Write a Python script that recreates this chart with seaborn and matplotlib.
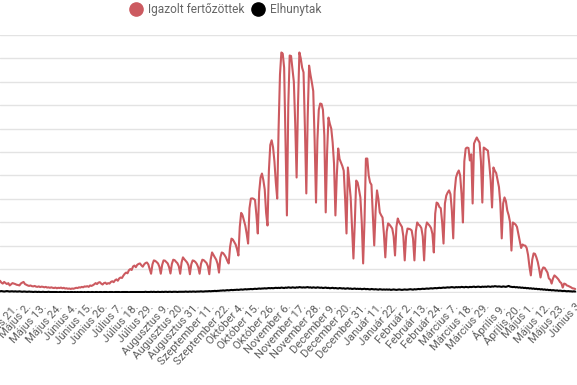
import numpy as np
import matplotlib
matplotlib.use("Agg")
import matplotlib.pyplot as plt
from matplotlib.lines import Line2D
import seaborn as sns

# napi adatok (kb. 2020. április 13. - 2021. június 3.)
cases = [
    50, 42, 38, 45, 40, 36, 40, 30, 35, 40,
    38, 36, 33, 32, 30, 38, 42, 45, 36, 33,
    30, 28, 30, 27, 26, 28, 25, 24, 26, 23,
    25, 24, 22, 24, 21, 22, 20, 22, 20, 19,
    21, 18, 20, 19, 21, 18, 20, 17, 18, 16,
    17, 15, 17, 16, 18, 20, 19, 22, 21, 24,
    22, 26, 25, 27, 24, 30, 28, 31, 35, 40,
    36, 42,
    44, 38, 34, 40, 42, 36, 40, 38, 45, 48,
    44, 52, 56, 50, 60, 64, 62, 72, 80, 85,
    82, 95, 100, 96, 111, 115, 108, 118, 122, 124,
    116, 110, 120, 126, 128, 120, 100,
    80, 120, 137, 135, 130, 124, 110,
    80, 118, 137, 136, 130, 124, 108,
    81, 122, 140, 138, 131, 125, 112,
    80, 128, 150, 142, 135, 128, 115,
    78, 120, 137, 135, 130, 122, 108,
    80, 122, 140, 138, 132, 126, 112,
    78, 140, 171, 160, 150, 140, 122,
    85, 150, 171, 168, 160, 150, 135,
    124, 195, 230, 226, 215, 205, 185,
    158, 280, 340, 330, 307, 285, 250,
    209, 360, 401, 402, 400, 395, 330,
    252, 430, 491, 508, 480, 440, 340,
    286, 520, 630, 650, 620, 560, 470,
    401, 700, 930, 1025, 1020, 960, 650,
    329, 800, 1012, 1010, 956, 900, 720,
    491, 800, 1025, 1000, 960, 940, 700,
    423, 750, 969, 930, 897, 860, 650,
    384, 650, 780, 807, 805, 780, 670,
    342, 600, 747, 720, 700, 641, 550,
    329, 500, 615, 570, 555, 540, 520, 400,
    252, 534, 470, 406, 280, 145,
    300, 478, 470, 440, 406, 300, 124,
    307, 572, 572, 500, 470, 460, 330,
    201, 350, 436, 400, 342, 330, 320, 250,
    150, 260, 295, 290, 282, 273, 240,
    158, 280, 316, 300, 290, 280, 240,
    137, 240, 273, 272, 270, 265, 230,
    137, 260, 299, 290, 285, 275, 240,
    137, 270, 299, 292, 285, 275, 250,
    171, 337, 384, 380, 365, 360, 300,
    209, 380, 414, 427, 436, 420, 350,
    231, 430, 491, 510, 521, 500, 420,
    299, 560, 615, 619, 617, 564, 590,
    380, 636, 650, 662, 650, 640, 560,
    384, 619, 615, 610, 606, 550, 480,
    363, 534, 520, 510, 480, 450, 380,
    231, 380, 406, 390, 350, 330, 300,
    179, 299, 295, 290, 280, 250, 220,
    190, 205, 201, 200, 190, 160, 110,
    73, 140, 167, 165, 150, 130, 100,
    64, 95, 107, 105, 95, 85, 60, 55,
    38, 60, 73, 68, 62, 55, 45, 40,
    21, 38, 36, 30, 28, 25, 22, 18, 17, 15,
]

deaths = [
    5, 6, 5, 4, 5, 6, 5, 4, 5, 5,
    4, 5, 4, 4, 5, 4, 3, 4, 4, 3,
    3, 4, 3, 3, 2, 3, 3, 2, 3, 2,
    2, 3, 2, 2, 2, 3, 2, 2, 2, 2,
    2, 2, 1, 2, 2, 1, 2, 2, 1, 2,
    1, 2, 2, 1, 2, 1, 2, 1, 2, 2,
    1, 2, 1, 2, 2, 1, 2, 2, 1, 2,
    2, 1, 2, 2, 1, 2, 2, 2, 1, 2,
    2, 2, 1, 2, 2, 2, 2, 1, 2, 2,
    2, 2, 2, 1, 2, 2, 2, 2, 2, 2,
    2, 2, 2, 2, 2, 3, 2, 2, 2, 3,
    2, 3, 2, 2, 3, 2, 2, 3, 2, 3,
    3, 2, 3, 3, 2, 3, 3, 3, 2, 3,
    3, 3, 3, 3, 4, 3, 3, 4, 3, 4,
    4, 3, 4, 4, 4, 5, 4, 4, 5, 5,
    5, 6, 5, 6, 6, 7, 6, 7, 7, 8,
    8, 9, 8, 9, 10, 9, 10, 11, 10, 11,
    11, 12, 11, 12, 13, 12, 13, 14, 13, 14,
    14, 15, 14, 15, 16, 15, 16, 17, 16, 17,
    17, 18, 17, 18, 19, 18, 19, 18, 19, 20,
    19, 20, 19, 21, 20, 19, 21, 20, 22, 21,
    20, 22, 21, 20, 22, 21, 23, 22, 21, 22,
    21, 22, 23, 21, 22, 20, 22, 21, 20, 22,
    21, 20, 21, 19, 20, 21, 19, 20, 18, 19,
    20, 18, 19, 18, 17, 19, 18, 17, 18, 16,
    17, 18, 16, 17, 15, 16, 17, 15, 16, 15,
    16, 14, 15, 16, 14, 15, 14, 13, 15, 14,
    13, 14, 13, 12, 14, 13, 12, 13, 12, 13,
    12, 13, 11, 12, 13, 12, 11, 12, 13, 12,
    11, 12, 13, 12, 12, 13, 14, 13, 12, 14,
    13, 14, 15, 14, 15, 16, 15, 16, 17, 16,
    17, 18, 17, 18, 19, 18, 19, 20, 19, 20,
    21, 20, 21, 22, 21, 22, 23, 22, 21, 23,
    22, 23, 22, 24, 23, 22, 24, 23, 22, 24,
    23, 24, 25, 23, 24, 25, 24, 23, 25, 24,
    25, 24, 26, 25, 24, 26, 25, 27, 26, 25,
    26, 25, 24, 26, 25, 24, 26, 28, 25, 24,
    23, 24, 22, 23, 21, 22, 20, 21, 19, 20,
    18, 19, 17, 18, 16, 17, 15, 16, 14, 15,
    13, 14, 12, 13, 11, 12, 10, 11, 9, 10,
    9, 8, 9, 7, 8, 7, 6, 7, 6, 5,
    6, 5, 5, 4, 5, 4,
]

tick_labels = [
    "Április 21.", "Május 2.", "Május 13.", "Május 24.", "Június 4.",
    "Június 15.", "Június 26.", "Július 7.", "Július 18.", "Július 29.",
    "Augusztus 9.", "Augusztus 20.", "Augusztus 31.", "Szeptember 11.",
    "Szeptember 22.", "Október 4.", "Október 15.", "Október 26.",
    "November 6.", "November 17.", "November 28.", "December 9.",
    "December 20.", "December 31.", "Január 11.", "Január 22.",
    "Február 2.", "Február 13.", "Február 24.", "Március 7.",
    "Március 18.", "Március 29.", "Április 9.", "Április 20.",
    "Május 1.", "Május 12.", "Május 23.", "Június 3",
]
tick_first = 8
tick_step = 11

series_names = ["Igazolt fertőzöttek", "Elhunytak"]
series_colors = ["#cc5a60", "#000000"]

sns.set_style("white")
plt.rcParams['font.family'] = ['Roboto', 'DejaVu Sans']

fig = plt.figure(figsize=(5.77, 3.85), dpi=100)
ax = fig.add_axes([0, 0.2397, 1, 0.6702])

sns.lineplot(x=np.arange(len(cases)), y=cases, ax=ax,
             color=series_colors[0], linewidth=1.5)
sns.lineplot(x=np.arange(len(deaths)), y=deaths, ax=ax,
             color=series_colors[1], linewidth=1.5)

ax.set_xlim(0, 416.3)
ax.set_ylim(-1, 1101)
ax.set_yticks(range(0, 1101, 100))
ax.set_yticklabels([])
ax.yaxis.grid(True, color="#e3e3e3", linewidth=1)
ax.set_axisbelow(True)
ax.set_xlabel("")
ax.set_ylabel("")

ticks = [tick_first + tick_step * i for i in range(len(tick_labels))]
ax.set_xticks(ticks)
ax.set_xticklabels(tick_labels, rotation=48, ha="right",
                   rotation_mode="anchor", fontsize=8.1, color="#5f5f5f")
ax.tick_params(left=False, bottom=False, pad=3)
for s in ax.spines.values():
    s.set_visible(False)

handles = [Line2D([], [], linestyle="none", marker="o", markersize=9.5,
                  markerfacecolor=c, markeredgecolor=c) for c in series_colors]
fig.legend(handles, series_names, loc="center", ncol=2, frameon=False,
           bbox_to_anchor=(226 / 577, 1 - 10 / 385), fontsize=8.6,
           labelcolor="#666666", handletextpad=0.5, columnspacing=0.6,
           handlelength=1.0)

fig.savefig("out.png", dpi=100)
